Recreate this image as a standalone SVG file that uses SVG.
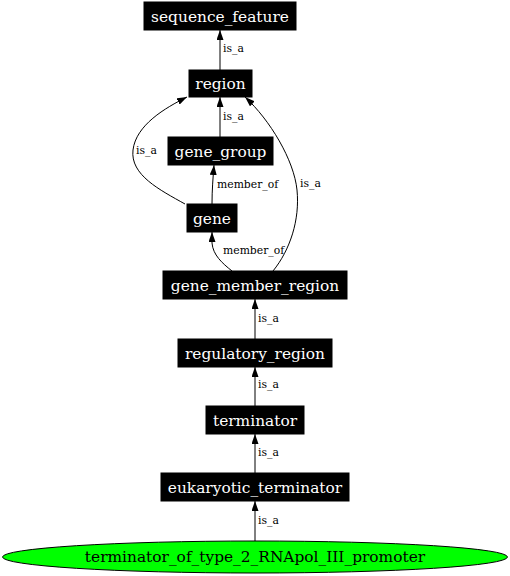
<svg xmlns="http://www.w3.org/2000/svg" width="510" height="576" viewBox="0 0 510 576">
<style>
.nb{fill:#000;stroke:#000}
.nt{font-family:"DejaVu Serif","Liberation Serif",serif;font-size:15.4px;fill:#fff;text-anchor:middle}
.el{font-family:"DejaVu Serif","Liberation Serif",serif;font-size:10.8px;fill:#000}
.e{fill:none;stroke:#000;stroke-width:1}
</style>
<defs>
<marker id="ah" markerUnits="userSpaceOnUse" markerWidth="10" markerHeight="7" refX="10" refY="3.5" orient="auto">
<path d="M0,0 L10,3.5 L0,7 z" fill="#000"/>
</marker>
</defs>
<rect width="510" height="576" fill="#fff"/>
<g id="connectors">
<path class="e" d="M220,70 L220,30" marker-end="url(#ah)"/>
<text class="el" x="223" y="52">is_a</text>
<path class="e" d="M220,137 L220,97" marker-end="url(#ah)"/>
<text class="el" x="223" y="120">is_a</text>
<path class="e" d="M185,204 C160,190 130,175 133,150 C136,125 165,108 187,97" marker-end="url(#ah)"/>
<text class="el" x="136" y="154">is_a</text>
<path class="e" d="M212,204 C212,190 213,178 214,165" marker-end="url(#ah)"/>
<text class="el" x="217" y="188">member_of</text>
<path class="e" d="M232,271 C222,263 213,255 212,243 L212,232" marker-end="url(#ah)"/>
<text class="el" x="223" y="254">member_of</text>
<path class="e" d="M273,271 C290,250 300,220 297,190 C294,160 270,120 245,97" marker-end="url(#ah)"/>
<text class="el" x="300" y="187">is_a</text>
<path class="e" d="M255,339 L255,299" marker-end="url(#ah)"/>
<text class="el" x="258" y="322">is_a</text>
<path class="e" d="M255,406 L255,367" marker-end="url(#ah)"/>
<text class="el" x="258" y="388">is_a</text>
<path class="e" d="M255,473 L255,434" marker-end="url(#ah)"/>
<text class="el" x="258" y="456">is_a</text>
<path class="e" d="M255,541 L255,501" marker-end="url(#ah)"/>
<text class="el" x="258" y="524">is_a</text>
</g>
<g id="sequence_feature"><rect class="nb" x="144" y="2" width="152" height="28"/><text class="nt" x="220" y="21.5">sequence_feature</text></g>
<g id="region"><rect class="nb" x="189" y="70" width="63" height="27"/><text class="nt" x="220.5" y="88.5">region</text></g>
<g id="gene_group"><rect class="nb" x="168" y="137" width="105" height="28"/><text class="nt" x="220.5" y="156.5">gene_group</text></g>
<g id="gene"><rect class="nb" x="187" y="204" width="50" height="28"/><text class="nt" x="212" y="223.5">gene</text></g>
<g id="gene_member_region"><rect class="nb" x="163" y="271" width="184" height="28"/><text class="nt" x="255" y="290.5">gene_member_region</text></g>
<g id="regulatory_region"><rect class="nb" x="178" y="339" width="154" height="28"/><text class="nt" x="255" y="358.5">regulatory_region</text></g>
<g id="terminator"><rect class="nb" x="206" y="406" width="98" height="28"/><text class="nt" x="255" y="425.5">terminator</text></g>
<g id="eukaryotic_terminator"><rect class="nb" x="161" y="473" width="188" height="28"/><text class="nt" x="255" y="492.5">eukaryotic_terminator</text></g>
<g id="terminator_of_type_2_RNApol_III_promoter"><ellipse cx="255" cy="557" rx="252.5" ry="16" fill="#00ff00" stroke="#000"/><text class="nt" x="255" y="562" style="fill:#000">terminator_of_type_2_RNApol_III_promoter</text></g>
</svg>
